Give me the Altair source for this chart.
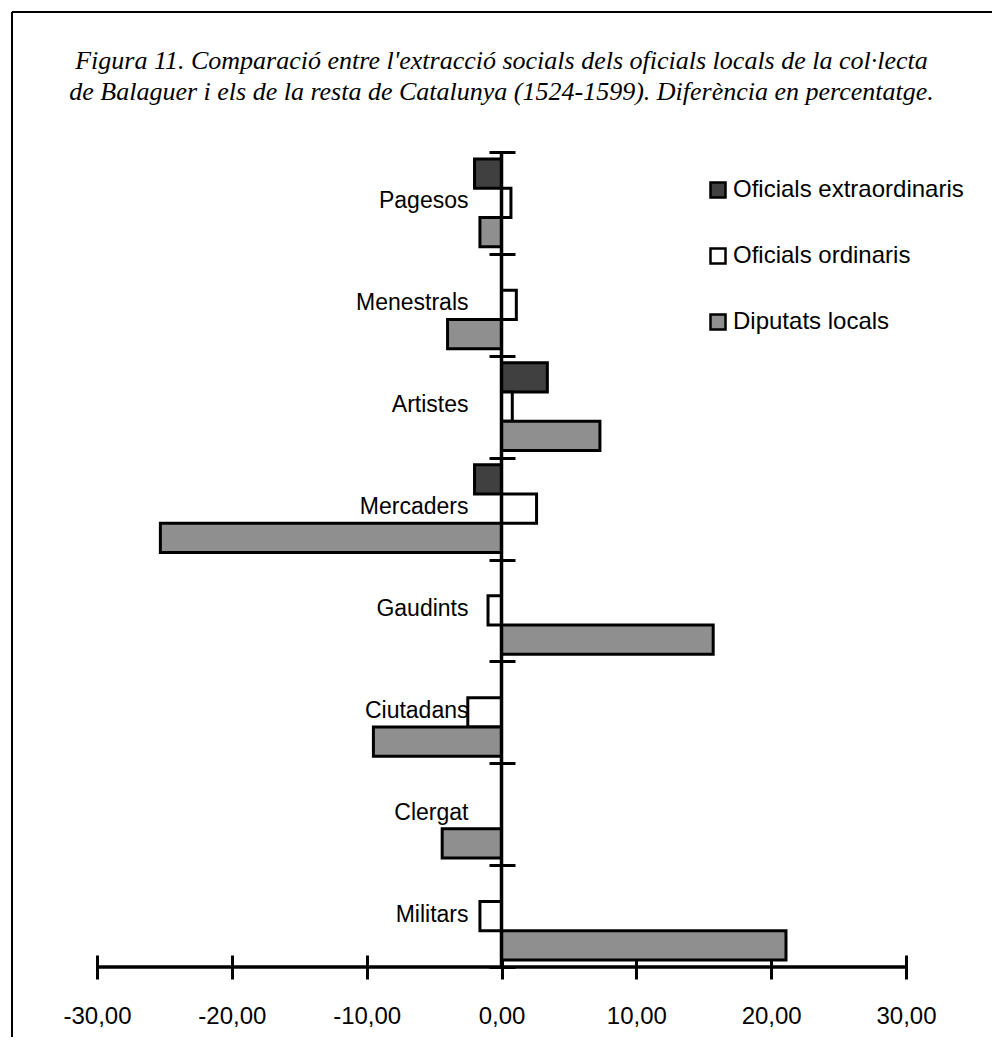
import altair as alt
import pandas as pd

# ---- data ----
categories = ["Pagesos", "Menestrals", "Artistes", "Mercaders",
              "Gaudints", "Ciutadans", "Clergat", "Militars"]
series = ["Oficials extraordinaris", "Oficials ordinaris", "Diputats locals"]
extraordinaris = [-2.0, 0.0, 3.4, -2.0, 0.0, 0.0, 0.0, 0.0]
ordinaris = [0.7, 1.1, 0.8, 2.6, -1.0, -2.5, 0.0, -1.6]
diputats = [-1.6, -4.0, 7.3, -25.3, 15.7, -9.5, -4.4, 21.1]
x_ticks = [-30, -20, -10, 0, 10, 20, 30]
title_lines = [
    "Figura 11. Comparació entre l'extracció socials dels oficials locals de la col·lecta",
    "de Balaguer i els de la resta de Catalunya (1524-1599). Diferència en percentatge.",
]

rows = []
for s, vals in zip(series, [extraordinaris, ordinaris, diputats]):
    for c, v in zip(categories, vals):
        rows.append({"categoria": c, "serie": s, "valor": v})
df = pd.DataFrame(rows)

W, H = 809, 815
SANS = "Liberation Sans"

bars = alt.Chart(df).transform_filter("datum.valor != 0").mark_bar(
    stroke="black", strokeWidth=3, strokeJoin="miter"
).encode(
    y=alt.Y(
        "categoria:N",
        sort=categories,
        scale=alt.Scale(domain=categories, paddingInner=0, paddingOuter=0),
        axis=alt.Axis(
            title=None, orient="left", offset=-418, domain=False,
            ticks=True, tickBand="extent", tickSize=26, tickWidth=3,
            tickColor="black", labelFont=SANS, labelFontSize=23,
            labelColor="black", labelPadding=21, labelAlign="right",
            labelBaseline="middle", labelOffset=-2, grid=False,
        ),
    ),
    yOffset=alt.YOffset(
        "serie:N", sort=series,
        scale=alt.Scale(domain=series, paddingInner=0, paddingOuter=0.24),
    ),
    x=alt.X(
        "valor:Q",
        scale=alt.Scale(domain=[-30, 30], nice=False, zero=True),
        axis=alt.Axis(
            title=None, values=x_ticks, offset=-12, domain=False,
            tickSize=24, tickWidth=3, tickColor="black",
            labelExpr="replace(replace(format(datum.value, '.2f'), '.', ','), '\u2212', '-')",
            labelFont=SANS, labelFontSize=24, labelColor="black",
            labelPadding=25, labelFlush=False, grid=False,
        ),
    ),
    fill=alt.Fill(
        "serie:N", sort=series,
        scale=alt.Scale(domain=series, range=["#404040", "#ffffff", "#8f8f8f"]),
        legend=alt.Legend(
            title=None, orient="none", legendX=609, legendY=26,
            symbolType="square", symbolSize=225, symbolStrokeColor="black",
            symbolStrokeWidth=2.5, labelFont=SANS, labelFontSize=24,
            labelColor="black", labelOffset=3, rowPadding=40, labelLimit=0,
        ),
    ),
)

one = pd.DataFrame({"k": [0]})

y_line = alt.Chart(one).mark_rule(color="black", strokeWidth=3.5).encode(
    x=alt.datum(0), y=alt.value(0), y2=alt.value(H)
)
x_line = alt.Chart(one).mark_rule(color="black", strokeWidth=3.5).encode(
    x=alt.value(0), x2=alt.value(W), y=alt.value(H)
)
border_top = alt.Chart(one).mark_rule(color="black", strokeWidth=2).encode(
    x=alt.value(-85), x2=alt.value(W + 100), y=alt.value(-140)
)
border_left = alt.Chart(one).mark_rule(color="black", strokeWidth=2).encode(
    x=alt.value(-85), y=alt.value(-140), y2=alt.value(H + 100)
)

chart = alt.layer(border_top, border_left, bars, y_line, x_line).properties(
    width=W,
    height=H,
    title=alt.TitleParams(
        text=title_lines, font="Liberation Serif", fontStyle="italic",
        fontWeight="normal", fontSize=26, color="black", anchor="middle",
        frame="group", lineHeight=31, offset=-94,
    ),
    autosize=alt.AutoSizeParams(type="none"),
    padding={"left": 89, "top": 144, "right": 86, "bottom": 70},
).configure_view(stroke=None).configure_axis(grid=False)

chart.save("out.html", embed_options={"renderer": "svg", "actions": False})
